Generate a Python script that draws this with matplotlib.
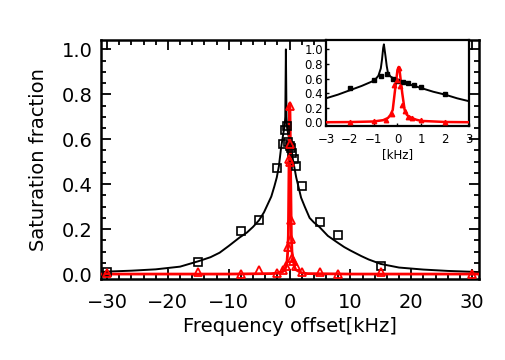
import matplotlib
matplotlib.use("Agg")
import matplotlib.pyplot as plt
import matplotlib.ticker as mticker

# measured points: black squares (all data), red triangles (narrow line)
sq_x = [-30, -15, -8, -5, -2, -1, -0.7, -0.45, -0.2, 0, 0.25, 0.45, 0.7, 1, 2, 5, 8, 15]
sq_y = [0.01, 0.055, 0.19, 0.24, 0.47, 0.58, 0.64, 0.66, 0.59, 0.57, 0.56, 0.54, 0.51, 0.48, 0.39, 0.23, 0.175, 0.036]

tri_x = [-30, -15, -8, -5, -2, -1, -0.5, -0.25, -0.13, 0, 0.05, 0.12, 0.2, 0.3, 0.45, 0.6, 1, 2, 5, 8, 15, 30]
tri_y = [0.005, 0.01, 0.002, 0.02, 0.003, 0.02, 0.035, 0.12, 0.51, 0.58, 0.75, 0.5, 0.24, 0.155, 0.073, 0.06, 0.035, 0.01, 0.01, 0.0, 0.01, 0.0]

# fit curves (wide range)
black_fit_x = [-31, -30, -26, -22, -18, -15, -13, -11.5, -10, -8.2, -7, -6, -5, -4.2, -3.6, -3, -2.5, -2.1, -1.75,
               -1.4, -1.0, -0.8, -0.7, -0.6, -0.5, -0.4, -0.2, 0, 0.3, 0.55, 1.1, 1.5, 1.9, 2.5, 3.3, 4, 4.9, 6.3,
               7.9, 9, 10, 11.8, 13, 15, 18, 22, 26, 30, 31]
black_fit_y = [0.009, 0.011, 0.015, 0.021, 0.033, 0.057, 0.075, 0.095, 0.125, 0.163, 0.185, 0.21, 0.24, 0.275, 0.31, 0.345, 0.39, 0.43, 0.48,
               0.56, 0.63, 0.66, 0.7, 1.0, 0.7, 0.65, 0.62, 0.6, 0.56, 0.51, 0.43, 0.385, 0.34, 0.3, 0.25, 0.23, 0.21, 0.17,
               0.14, 0.12, 0.105, 0.08, 0.065, 0.045, 0.029, 0.02, 0.014, 0.01, 0.009]

# fit curves in the zoomed inset
zoom_black_x = [-3, -2.5, -2, -1.5, -1, -0.9, -0.8, -0.7, -0.65, -0.6, -0.57, -0.5, -0.45, -0.4, -0.3,
                -0.2, 0, 0.3, 0.5, 1, 1.5, 2, 2.5, 3]
zoom_black_y = [0.33, 0.38, 0.44, 0.5, 0.57, 0.6, 0.64, 0.74, 0.86, 1.02, 1.07, 0.9, 0.77, 0.68, 0.63,
                0.61, 0.58, 0.55, 0.52, 0.47, 0.42, 0.38, 0.33, 0.29]

red_fit_x = [-31, -10, -3, -2, -1, -0.6, -0.4, -0.3, -0.2, -0.1, 0, 0.05, 0.1, 0.2, 0.3, 0.4, 0.6, 0.8, 1, 2, 3, 10, 31]
red_fit_y = [0.0, 0.0, 0.002, 0.004, 0.012, 0.03, 0.06, 0.1, 0.17, 0.45, 0.72, 0.76, 0.68, 0.4, 0.17, 0.1, 0.06, 0.035, 0.02, 0.005, 0.002, 0.0, 0.0]

RED = '#ff0000'

fig = plt.figure(figsize=(5.05, 3.6), dpi=100)

# main panel
ax = fig.add_axes([0.2, 0.225, 0.7485, 0.664])
ax.plot(black_fit_x, black_fit_y, color='black', lw=1.4, zorder=2)
ax.plot(red_fit_x, red_fit_y, color=RED, lw=2.0, zorder=3)
ax.plot(sq_x, sq_y, ls='none', marker='s', ms=5.3, mfc='none', mec='black', mew=1.2, zorder=4)
ax.plot(tri_x, tri_y, ls='none', marker='^', ms=5.5, mfc='none', mec=RED, mew=1.3, zorder=5)
ax.set_xlim(-31, 31.15)
ax.set_ylim(-0.022, 1.042)
ax.xaxis.set_major_locator(mticker.MultipleLocator(10))
ax.xaxis.set_minor_locator(mticker.MultipleLocator(2))
ax.yaxis.set_major_locator(mticker.MultipleLocator(0.2))
ax.yaxis.set_minor_locator(mticker.MultipleLocator(0.05))
ax.yaxis.set_major_formatter(mticker.FormatStrFormatter('%.1f'))
ax.tick_params(which='both', direction='in', top=True, right=True, width=1.3)
ax.tick_params(which='major', length=7, labelsize=14)
ax.tick_params(axis='x', which='major', pad=10)
ax.tick_params(axis='y', which='major', pad=6)
ax.tick_params(which='minor', length=3.5)
for s in ax.spines.values():
    s.set_linewidth(1.8)
ax.set_xlabel('Frequency offset[kHz]', fontsize=14, labelpad=4)
ax.set_ylabel('Saturation fraction', fontsize=14, labelpad=10)

# inset zoom on the centre
ins = fig.add_axes([0.6455, 0.651, 0.2832, 0.238])
ins.set_facecolor('white')
ins.plot(zoom_black_x, zoom_black_y, color='black', lw=1.4, zorder=2)
ins.plot(red_fit_x, red_fit_y, color=RED, lw=1.8, zorder=3)
ins.plot(sq_x, sq_y, ls='none', marker='s', ms=3.2, color='black', zorder=4)
ins.plot(tri_x, tri_y, ls='none', marker='^', ms=3.2, color=RED, zorder=5)
ins.set_xlim(-3, 3)
ins.set_ylim(-0.045, 1.13)
ins.xaxis.set_major_locator(mticker.MultipleLocator(1))
ins.yaxis.set_major_locator(mticker.MultipleLocator(0.2))
ins.yaxis.set_major_formatter(mticker.FormatStrFormatter('%.1f'))
ins.tick_params(direction='in', length=2.5, width=1, labelsize=8.5, pad=2)
ins.tick_params(axis='x', pad=5)
for s in ins.spines.values():
    s.set_linewidth(1.6)
ins.set_xlabel('[kHz]', fontsize=8.5, labelpad=2)

fig.savefig('out.png', dpi=100)
